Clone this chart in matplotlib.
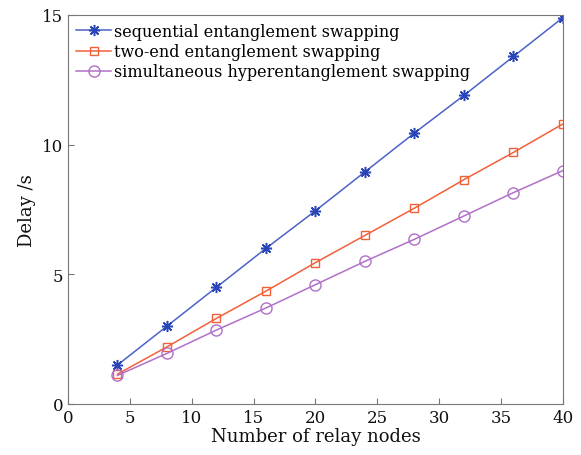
import matplotlib
matplotlib.use("Agg")
import matplotlib.pyplot as plt

nodes = [4, 8, 12, 16, 20, 24, 28, 32, 36, 40]
sequential = [1.5, 3.0, 4.5, 6.0, 7.45, 8.95, 10.45, 11.9, 13.4, 14.9]
two_end = [1.15, 2.2, 3.3, 4.35, 5.45, 6.5, 7.55, 8.65, 9.7, 10.8]
simultaneous = [1.1, 1.95, 2.85, 3.7, 4.6, 5.5, 6.35, 7.25, 8.15, 9.0]
labels = ["sequential entanglement swapping", "two-end entanglement swapping",
          "simultaneous hyperentanglement swapping"]
xticks = [0, 5, 10, 15, 20, 25, 30, 35, 40]
yticks = [0, 5, 10, 15]

plt.rcParams['font.family'] = ['DejaVu Serif']
fig = plt.figure(figsize=(5.81, 4.56), dpi=100)
ax = fig.add_axes([0.117, 0.112, 0.852, 0.853])

ax.plot(nodes, sequential, color='#4a63c8', marker=(8, 2, 0), markersize=8,
        markeredgewidth=1.1, lw=1.1, markeredgecolor='#2a45b8', label=labels[0])
ax.plot(nodes, two_end, color='#f2603a', marker='s', markersize=6, lw=1.1,
        markerfacecolor='none', label=labels[1])
ax.plot(nodes, simultaneous, color='#b070c8', marker='o', markersize=8, lw=1.1,
        markerfacecolor='none', label=labels[2])

ax.set_xlim(0, 40)
ax.set_ylim(0, 15)
ax.set_xticks(xticks)
ax.set_yticks(yticks)
ax.tick_params(direction='in', length=4, labelsize=12, color='#777777',
               labelcolor='#111111')
for s in ax.spines.values():
    s.set_color('#777777')
ax.set_xlabel("Number of relay nodes", fontsize=13, labelpad=1, color='#111111')
ax.set_ylabel("Delay /s", fontsize=13, labelpad=4, color='#111111')
ax.legend(loc='upper left', frameon=False, fontsize=11.5, handlelength=2.2,
          borderaxespad=0.2, labelspacing=0.2, handletextpad=0.2,
          borderpad=0.3)
fig.savefig("out.png", dpi=100)
